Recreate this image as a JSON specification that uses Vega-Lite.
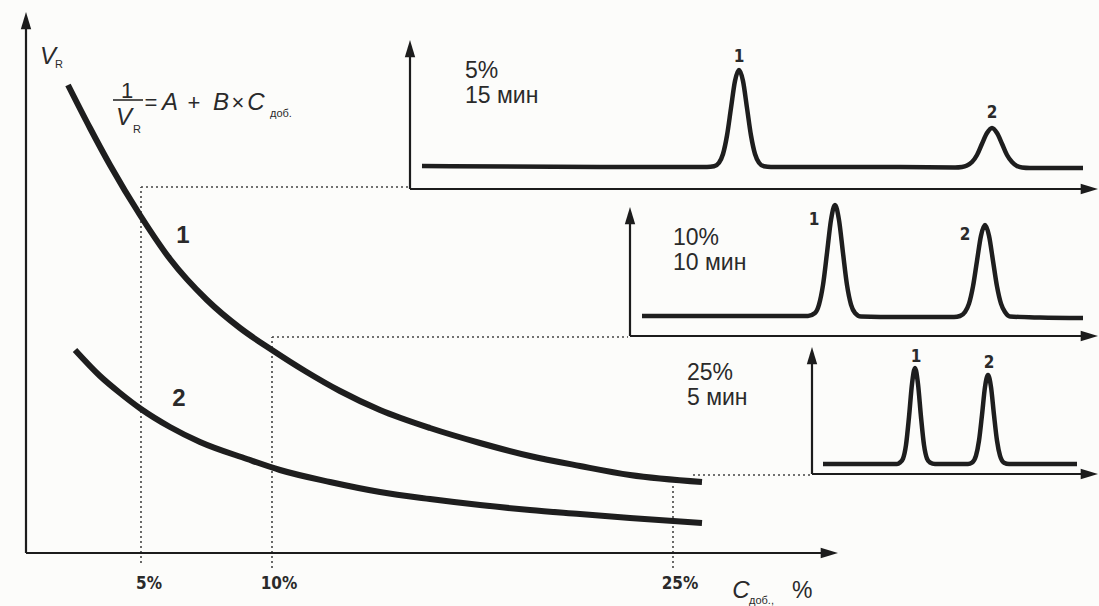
{
  "$schema": "https://vega.github.io/schema/vega-lite/v6.json",
  "width": 1099,
  "height": 606,
  "autosize": {"type": "fit", "contains": "padding"},
  "padding": 0,
  "background": "#fcfcfa",
  "view": {"stroke": null},
  "config": {"font": "Liberation Sans"},
  "datasets": {
    "curves": [
      {"id": "c1", "x": 68, "y": 85}, {"id": "c1", "x": 90, "y": 128}, {"id": "c1", "x": 110, "y": 165},
      {"id": "c1", "x": 140, "y": 215}, {"id": "c1", "x": 170, "y": 259}, {"id": "c1", "x": 207, "y": 300},
      {"id": "c1", "x": 240, "y": 328}, {"id": "c1", "x": 272, "y": 350}, {"id": "c1", "x": 305, "y": 371},
      {"id": "c1", "x": 340, "y": 391}, {"id": "c1", "x": 380, "y": 410}, {"id": "c1", "x": 430, "y": 428},
      {"id": "c1", "x": 480, "y": 443}, {"id": "c1", "x": 530, "y": 456}, {"id": "c1", "x": 580, "y": 466},
      {"id": "c1", "x": 630, "y": 475}, {"id": "c1", "x": 702, "y": 482},
      {"id": "c2", "x": 75, "y": 350}, {"id": "c2", "x": 100, "y": 376}, {"id": "c2", "x": 120, "y": 393},
      {"id": "c2", "x": 141, "y": 409}, {"id": "c2", "x": 170, "y": 427}, {"id": "c2", "x": 200, "y": 442},
      {"id": "c2", "x": 247, "y": 459}, {"id": "c2", "x": 280, "y": 470}, {"id": "c2", "x": 330, "y": 482},
      {"id": "c2", "x": 380, "y": 492}, {"id": "c2", "x": 430, "y": 499}, {"id": "c2", "x": 480, "y": 505},
      {"id": "c2", "x": 530, "y": 510}, {"id": "c2", "x": 580, "y": 514}, {"id": "c2", "x": 630, "y": 518},
      {"id": "c2", "x": 702, "y": 523}
    ],
    "chrom": [
      {"id": "p1", "x": 422, "y": 166}, {"id": "p1", "x": 600, "y": 167}, {"id": "p1", "x": 707, "y": 167},
      {"id": "p1", "x": 714, "y": 166.3}, {"id": "p1", "x": 719, "y": 162.7}, {"id": "p1", "x": 723, "y": 154},
      {"id": "p1", "x": 727, "y": 135.5}, {"id": "p1", "x": 731, "y": 108}, {"id": "p1", "x": 735, "y": 81},
      {"id": "p1", "x": 739, "y": 70}, {"id": "p1", "x": 743, "y": 81}, {"id": "p1", "x": 747, "y": 108},
      {"id": "p1", "x": 751, "y": 135.5}, {"id": "p1", "x": 755, "y": 154}, {"id": "p1", "x": 759, "y": 162.7},
      {"id": "p1", "x": 764, "y": 166.3}, {"id": "p1", "x": 771, "y": 167}, {"id": "p1", "x": 900, "y": 167},
      {"id": "p1", "x": 955, "y": 167.5}, {"id": "p1", "x": 962, "y": 167}, {"id": "p1", "x": 967, "y": 165.5},
      {"id": "p1", "x": 972, "y": 162}, {"id": "p1", "x": 977, "y": 155}, {"id": "p1", "x": 982, "y": 143.7},
      {"id": "p1", "x": 987, "y": 133}, {"id": "p1", "x": 992, "y": 128}, {"id": "p1", "x": 997, "y": 133},
      {"id": "p1", "x": 1002, "y": 143.7}, {"id": "p1", "x": 1007, "y": 155}, {"id": "p1", "x": 1012, "y": 162},
      {"id": "p1", "x": 1017, "y": 166}, {"id": "p1", "x": 1022, "y": 167.5}, {"id": "p1", "x": 1030, "y": 168},
      {"id": "p1", "x": 1083, "y": 168},
      {"id": "p2", "x": 642, "y": 316}, {"id": "p2", "x": 780, "y": 316}, {"id": "p2", "x": 808, "y": 316},
      {"id": "p2", "x": 815, "y": 313}, {"id": "p2", "x": 819, "y": 304.6}, {"id": "p2", "x": 823, "y": 285},
      {"id": "p2", "x": 827, "y": 253}, {"id": "p2", "x": 831, "y": 220}, {"id": "p2", "x": 835, "y": 205},
      {"id": "p2", "x": 839, "y": 220}, {"id": "p2", "x": 843, "y": 253}, {"id": "p2", "x": 847, "y": 285},
      {"id": "p2", "x": 851, "y": 304.6}, {"id": "p2", "x": 855, "y": 313}, {"id": "p2", "x": 861, "y": 316.5},
      {"id": "p2", "x": 900, "y": 317}, {"id": "p2", "x": 954, "y": 317}, {"id": "p2", "x": 960, "y": 316},
      {"id": "p2", "x": 965, "y": 312}, {"id": "p2", "x": 969, "y": 303.7}, {"id": "p2", "x": 973, "y": 286.4},
      {"id": "p2", "x": 977, "y": 260.8}, {"id": "p2", "x": 981, "y": 235.7}, {"id": "p2", "x": 985, "y": 225},
      {"id": "p2", "x": 989, "y": 235.7}, {"id": "p2", "x": 993, "y": 260.8}, {"id": "p2", "x": 997, "y": 286.4},
      {"id": "p2", "x": 1001, "y": 303.7}, {"id": "p2", "x": 1005, "y": 312}, {"id": "p2", "x": 1010, "y": 316.5},
      {"id": "p2", "x": 1040, "y": 317.5}, {"id": "p2", "x": 1083, "y": 318},
      {"id": "p3", "x": 823, "y": 464}, {"id": "p3", "x": 880, "y": 464}, {"id": "p3", "x": 897, "y": 464},
      {"id": "p3", "x": 900, "y": 462.5}, {"id": "p3", "x": 903, "y": 458.6}, {"id": "p3", "x": 906, "y": 445},
      {"id": "p3", "x": 909, "y": 417}, {"id": "p3", "x": 912, "y": 384}, {"id": "p3", "x": 915, "y": 368},
      {"id": "p3", "x": 918, "y": 384}, {"id": "p3", "x": 921, "y": 417}, {"id": "p3", "x": 924, "y": 445},
      {"id": "p3", "x": 927, "y": 458.6}, {"id": "p3", "x": 930, "y": 462.5}, {"id": "p3", "x": 935, "y": 464},
      {"id": "p3", "x": 968, "y": 464}, {"id": "p3", "x": 972, "y": 462.7}, {"id": "p3", "x": 976, "y": 455.7},
      {"id": "p3", "x": 979, "y": 440.7}, {"id": "p3", "x": 982, "y": 415}, {"id": "p3", "x": 985, "y": 387},
      {"id": "p3", "x": 988, "y": 375}, {"id": "p3", "x": 991, "y": 387}, {"id": "p3", "x": 994, "y": 415},
      {"id": "p3", "x": 997, "y": 440.7}, {"id": "p3", "x": 1000, "y": 455.7}, {"id": "p3", "x": 1004, "y": 462.7},
      {"id": "p3", "x": 1009, "y": 464}, {"id": "p3", "x": 1077, "y": 464}
    ],
    "axes": [
      {"x": 26, "y": 553, "x2": 26, "y2": 24},
      {"x": 26, "y": 553, "x2": 826, "y2": 553},
      {"x": 410, "y": 189, "x2": 410, "y2": 52},
      {"x": 410, "y": 189, "x2": 1086, "y2": 189},
      {"x": 630, "y": 336, "x2": 630, "y2": 219},
      {"x": 630, "y": 336, "x2": 1086, "y2": 336},
      {"x": 812, "y": 474, "x2": 812, "y2": 359},
      {"x": 812, "y": 474, "x2": 1086, "y2": 474}
    ],
    "fraction": [
      {"x": 113, "y": 100, "x2": 143, "y2": 100}
    ],
    "dots": [
      {"x": 141, "y": 563, "x2": 141, "y2": 187},
      {"x": 141, "y": 187, "x2": 408, "y2": 187},
      {"x": 272, "y": 568, "x2": 272, "y2": 337},
      {"x": 272, "y": 337, "x2": 628, "y2": 337},
      {"x": 673, "y": 568, "x2": 673, "y2": 483},
      {"x": 693, "y": 475, "x2": 810, "y2": 475}
    ],
    "arrowsUp": [
      {"x": 26, "y": 12}, {"x": 410, "y": 40}, {"x": 630, "y": 207}, {"x": 812, "y": 347}
    ],
    "arrowsRight": [
      {"x": 838, "y": 553}, {"x": 1098, "y": 189}, {"x": 1098, "y": 336}, {"x": 1098, "y": 474}
    ],
    "txtLeft": [
      {"t": "5%", "x": 465, "y": 78}, {"t": "15 мин", "x": 465, "y": 103},
      {"t": "10%", "x": 673, "y": 245}, {"t": "10 мин", "x": 673, "y": 270},
      {"t": "25%", "x": 687, "y": 380}, {"t": "5 мин", "x": 687, "y": 405},
      {"t": "%", "x": 792, "y": 598}
    ],
    "txtSym": [
      {"t": "1", "x": 127, "y": 98}, {"t": "=", "x": 151, "y": 110},
      {"t": "+", "x": 194, "y": 110}, {"t": "×", "x": 238, "y": 110}
    ],
    "txtItalic": [
      {"t": "A", "x": 170, "y": 110}, {"t": "B", "x": 221, "y": 110}, {"t": "C", "x": 256, "y": 110},
      {"t": "V", "x": 124, "y": 125}, {"t": "V", "x": 48, "y": 64}, {"t": "C", "x": 741, "y": 598}
    ],
    "txtSub": [
      {"t": "R", "x": 133, "y": 133}, {"t": "R", "x": 55, "y": 68},
      {"t": "доб.", "x": 270, "y": 117}, {"t": "доб.,", "x": 749, "y": 604}
    ],
    "txtTicks": [
      {"t": "5%", "x": 149, "y": 589}, {"t": "10%", "x": 279, "y": 589}, {"t": "25%", "x": 680, "y": 589}
    ],
    "txtPeaks": [
      {"t": "1", "x": 739, "y": 62}, {"t": "2", "x": 992, "y": 118},
      {"t": "1", "x": 814, "y": 225}, {"t": "2", "x": 965, "y": 240},
      {"t": "1", "x": 916, "y": 362}, {"t": "2", "x": 989, "y": 368}
    ],
    "txtCurves": [
      {"t": "1", "x": 183, "y": 243}, {"t": "2", "x": 179, "y": 406}
    ]
  },
  "encoding": {
    "x": {"field": "x", "type": "quantitative", "scale": {"domain": [0, 1099], "nice": false, "zero": false}, "axis": null},
    "y": {"field": "y", "type": "quantitative", "scale": {"domain": [0, 606], "nice": false, "zero": false, "reverse": true}, "axis": null}
  },
  "layer": [
    {
      "data": {"name": "dots"},
      "mark": {"type": "rule", "color": "#444444", "strokeWidth": 1.6, "strokeDash": [2, 3]},
      "encoding": {"x2": {"field": "x2"}, "y2": {"field": "y2"}}
    },
    {
      "data": {"name": "axes"},
      "mark": {"type": "rule", "color": "#1c1c1c", "strokeWidth": 2.2},
      "encoding": {"x2": {"field": "x2"}, "y2": {"field": "y2"}}
    },
    {
      "data": {"name": "fraction"},
      "mark": {"type": "rule", "color": "#2a2a2a", "strokeWidth": 1.6},
      "encoding": {"x2": {"field": "x2"}, "y2": {"field": "y2"}}
    },
    {
      "data": {"name": "arrowsUp"},
      "mark": {"type": "point", "shape": "M0,0L0.6,2L-0.6,2Z", "size": 300, "filled": true, "color": "#1c1c1c", "opacity": 1}
    },
    {
      "data": {"name": "arrowsRight"},
      "mark": {"type": "point", "shape": "M0,0L-2,-0.6L-2,0.6Z", "size": 300, "filled": true, "color": "#1c1c1c", "opacity": 1}
    },
    {
      "data": {"name": "curves"},
      "mark": {"type": "line", "color": "#1e1e1e", "strokeWidth": 6, "interpolate": "monotone"},
      "encoding": {"detail": {"field": "id"}}
    },
    {
      "data": {"name": "chrom"},
      "mark": {"type": "line", "color": "#1e1e1e", "strokeWidth": 4.5, "interpolate": "monotone", "strokeJoin": "round"},
      "encoding": {"detail": {"field": "id"}}
    },
    {
      "data": {"name": "txtLeft"},
      "mark": {"type": "text", "align": "left", "baseline": "alphabetic", "fontSize": 23, "color": "#2a2a2a"},
      "encoding": {"text": {"field": "t"}}
    },
    {
      "data": {"name": "txtSym"},
      "mark": {"type": "text", "align": "center", "baseline": "alphabetic", "fontSize": 22, "color": "#2a2a2a"},
      "encoding": {"text": {"field": "t"}}
    },
    {
      "data": {"name": "txtItalic"},
      "mark": {"type": "text", "align": "center", "baseline": "alphabetic", "fontSize": 24, "fontStyle": "italic", "color": "#2a2a2a"},
      "encoding": {"text": {"field": "t"}}
    },
    {
      "data": {"name": "txtSub"},
      "mark": {"type": "text", "align": "left", "baseline": "alphabetic", "fontSize": 11, "color": "#2a2a2a"},
      "encoding": {"text": {"field": "t"}}
    },
    {
      "data": {"name": "txtTicks"},
      "mark": {"type": "text", "align": "center", "baseline": "alphabetic", "fontSize": 17, "fontWeight": "bold", "font": "Liberation Sans Narrow, DejaVu Sans Condensed, sans-serif", "color": "#2a2a2a"},
      "encoding": {"text": {"field": "t"}}
    },
    {
      "data": {"name": "txtPeaks"},
      "mark": {"type": "text", "align": "center", "baseline": "alphabetic", "fontSize": 17, "fontWeight": "bold", "font": "Liberation Sans Narrow, DejaVu Sans Condensed, sans-serif", "color": "#2a2a2a"},
      "encoding": {"text": {"field": "t"}}
    },
    {
      "data": {"name": "txtCurves"},
      "mark": {"type": "text", "align": "center", "baseline": "alphabetic", "fontSize": 24, "fontWeight": "bold", "color": "#2a2a2a"},
      "encoding": {"text": {"field": "t"}}
    }
  ]
}
